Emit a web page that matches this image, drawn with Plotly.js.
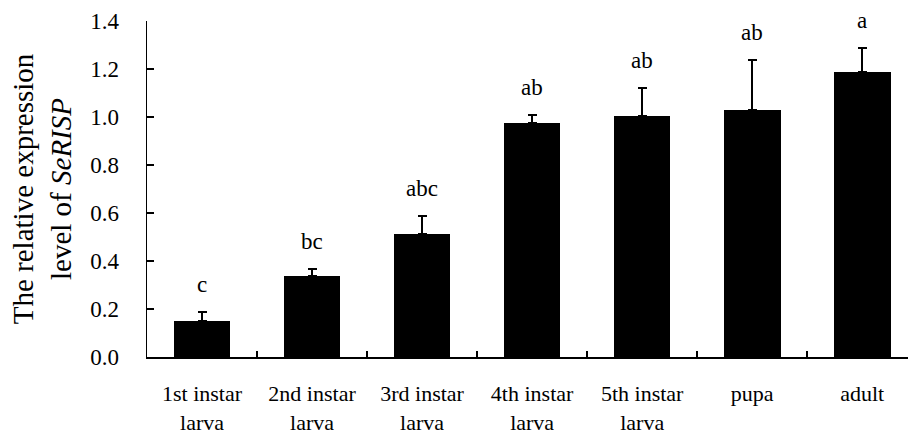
<!DOCTYPE html>
<html>
<head>
<meta charset="utf-8">
<script src="https://cdn.plot.ly/plotly-3.0.1.min.js"></script>
<style>html,body{margin:0;padding:0;background:#fff;}#chart{width:908px;height:436px;}</style>
</head>
<body>
<div id="chart"></div>
<script>
const categories = ["1st instar<br>larva", "2nd instar<br>larva", "3rd instar<br>larva", "4th instar<br>larva", "5th instar<br>larva", "pupa", "adult"];
const values = [0.15, 0.336, 0.514, 0.977, 1.003, 1.029, 1.189];
const errors = [0.037, 0.030, 0.072, 0.030, 0.119, 0.208, 0.099];
const letters = ["c", "bc", "abc", "ab", "ab", "ab", "a"];
const yTicks = [0, 0.2, 0.4, 0.6, 0.8, 1.0, 1.2, 1.4];

const font = "'Liberation Serif', serif";

const trace = {
  type: "bar",
  x: categories,
  y: values,
  width: 0.515,
  marker: {color: "#000", line: {width: 0}},
  error_y: {type: "data", array: errors, arrayminus: errors.map(() => 0), symmetric: false,
            color: "#000", thickness: 2, width: 4.5},
  hoverinfo: "skip"
};

const annotations = categories.map((c, i) => ({
  x: c, y: values[i] + errors[i], xref: "x", yref: "y",
  text: letters[i], showarrow: false, yanchor: "bottom", yshift: 13,
  font: {family: font, size: 23, color: "#000"}
}));

const layout = {
  width: 908, height: 436,
  font: {family: font, color: "#000"},
  margin: {l: 147, r: 0, t: 21, b: 79, pad: 0},
  paper_bgcolor: "#fff", plot_bgcolor: "#fff",
  showlegend: false,
  bargap: 0,
  xaxis: {
    type: "category", range: [-0.5, 6.416],
    showline: true, linecolor: "#000", linewidth: 1.5,
    ticks: "inside", ticklen: 6, tickwidth: 1.5, tickcolor: "#000", tickson: "boundaries",
    showgrid: false, zeroline: false,
    tickfont: {family: font, size: 22, color: "#000"},
    ticklabelstandoff: 16
  },
  yaxis: {
    range: [0, 1.4], tickvals: yTicks, ticktext: yTicks.map(v => v.toFixed(1)),
    showline: true, linecolor: "#000", linewidth: 1.5,
    ticks: "inside", ticklen: 7, tickwidth: 1.5, tickcolor: "#000",
    showgrid: false, zeroline: false,
    tickfont: {family: font, size: 23, color: "#000"},
    ticklabelstandoff: 22,
    title: {text: "The relative expression<br>level of <i>SeRISP</i>", font: {family: font, size: 29, color: "#000"}, standoff: 10}
  },
  annotations: annotations
};

Plotly.newPlot("chart", [trace], layout, {displayModeBar: false, staticPlot: true});
</script>
</body>
</html>
